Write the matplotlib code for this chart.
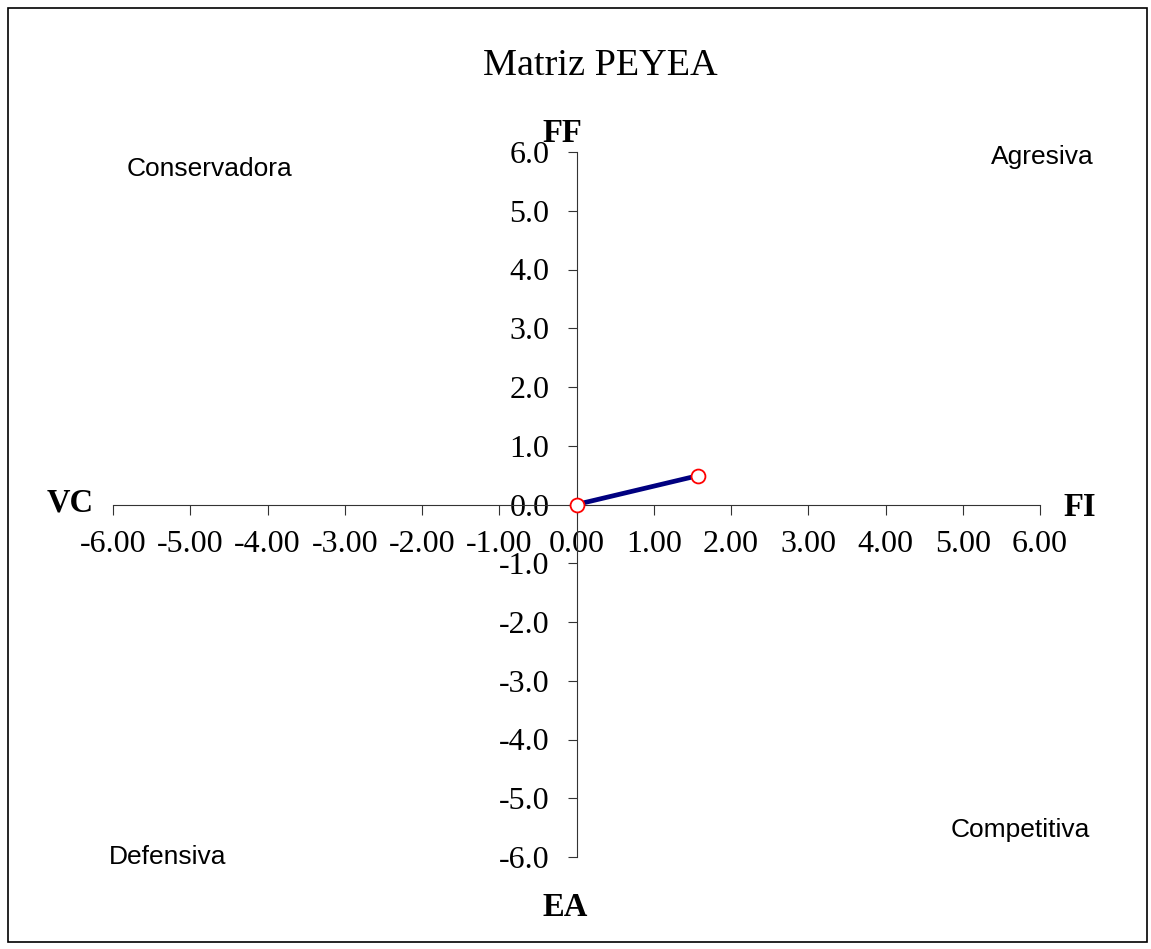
import numpy as np
import matplotlib
matplotlib.use('Agg')
import matplotlib.pyplot as plt
from matplotlib.patches import Rectangle
from matplotlib.ticker import FormatStrFormatter

# datos de la matriz PEYEA
x_vals = [0.0, 1.57]
y_vals = [0.0, 0.49]
x_ticks = [-6, -5, -4, -3, -2, -1, 0, 1, 2, 3, 4, 5, 6]
y_ticks = [-6, -5, -4, -3, -2, -1, 0, 1, 2, 3, 4, 5, 6]
cuadrantes = ['Conservadora', 'Agresiva', 'Defensiva', 'Competitiva']
ejes = ['FF', 'FI', 'VC', 'EA']

W, H = 1151, 949
fig = plt.figure(figsize=(W / 100, H / 100), dpi=100)
serif = 'Liberation Serif'
sans = 'Liberation Sans'

def fx(px):
    return px / W

def fy(py):
    return 1 - py / H

# borde del grafico
fig.patches.append(Rectangle((fx(8), fy(942)), fx(1147) - fx(8), fy(8) - fy(942),
                             transform=fig.transFigure, fill=False,
                             edgecolor='black', linewidth=1.2))

ax = fig.add_axes([fx(113), fy(857), fx(1040) - fx(113), fy(152) - fy(857)])
ax.set_xlim(-6, 6)
ax.set_ylim(-6, 6)
ax.patch.set_alpha(0)

for s in ['top', 'right']:
    ax.spines[s].set_visible(False)
ax.spines['left'].set_position(('data', 0))
ax.spines['bottom'].set_position(('data', 0))
ax.spines['left'].set_color('#333333')
ax.spines['bottom'].set_color('#333333')

ax.set_xticks(x_ticks)
ax.set_yticks(y_ticks)
ax.xaxis.set_major_formatter(FormatStrFormatter('%.2f'))
ax.yaxis.set_major_formatter(FormatStrFormatter('%.1f'))
ax.tick_params(axis='x', direction='out', length=7, pad=11, labelsize=23, color='#333333')
ax.tick_params(axis='y', direction='out', length=6.5, pad=13, labelsize=23, color='#333333')
for lab in ax.get_xticklabels() + ax.get_yticklabels():
    lab.set_fontfamily(serif)

ax.plot(x_vals, y_vals, color='#000080', linewidth=3.4, zorder=3, clip_on=False)
ax.plot(x_vals, y_vals, linestyle='none', marker='o', markersize=10,
        markerfacecolor='white', markeredgecolor='red', markeredgewidth=1.3,
        zorder=4, clip_on=False)

fig.text(fx(600), fy(66), 'Matriz PEYEA', family=serif, fontsize=27.5,
         ha='center', va='center')

# etiquetas de los ejes
pos_ejes = [(562, 133), (1080, 507), (70, 503), (565, 907)]
for t, (px, py) in zip(ejes, pos_ejes):
    fig.text(fx(px), fy(py), t, family=serif, fontsize=23.5, fontweight='bold',
             ha='center', va='center')

# cuadrantes
pos_cuad = [(210, 169), (1042, 157), (168, 857), (1020, 830)]
for t, (px, py) in zip(cuadrantes, pos_cuad):
    fig.text(fx(px), fy(py), t, family=sans, fontsize=19,
             ha='center', va='center')

fig.savefig('out.png', dpi=100)
